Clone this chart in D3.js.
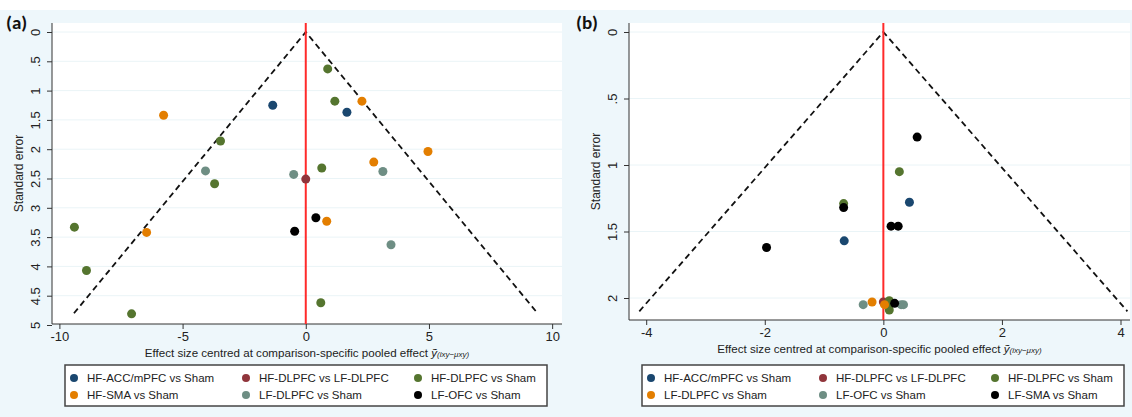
<!DOCTYPE html>
<html>
<head>
<meta charset="utf-8">
<script src="https://cdn.jsdelivr.net/npm/d3@7"></script>
<style>
  body { margin: 0; background: #fff; }
  svg { display: block; font-family: "Liberation Sans", Arial, sans-serif; }
  .tick text { fill: #222; }
</style>
</head>
<body>
<script>
// Comparison groups and colours (Stata s2color-like)
var groupColors = ['#1a476f', '#90353b', '#55752f', '#e37e00', '#6e8e84', '#000000'];
var aLabels = ['HF-ACC/mPFC vs Sham', 'HF-DLPFC vs LF-DLPFC', 'HF-DLPFC vs Sham',
               'HF-SMA vs Sham', 'LF-DLPFC vs Sham', 'LF-OFC vs Sham'];
var bLabels = ['HF-ACC/mPFC vs Sham', 'HF-DLPFC vs LF-DLPFC', 'HF-DLPFC vs Sham',
               'LF-DLPFC vs Sham', 'LF-OFC vs Sham', 'LF-SMA vs Sham'];

// Panel (a): effect centred, standard error, group index
var aEffect = [-1.34, 1.67, 0, 0.89, 1.18, -3.46, -3.70, 0.65, 0.61, -9.39, -8.90, -7.07,
               -5.77, 2.28, 4.96, 2.76, 0.85, -6.46, -4.07, -0.49, 3.13, 3.46, 0.41, -0.45];
var aSE     = [1.25, 1.37, 2.51, 0.63, 1.18, 1.86, 2.59, 2.32, 4.62, 3.33, 4.07, 4.81,
               1.42, 1.18, 2.04, 2.22, 3.23, 3.42, 2.37, 2.43, 2.38, 3.63, 3.17, 3.40];
var aGroup  = [0, 0, 1, 2, 2, 2, 2, 2, 2, 2, 2, 2,
               3, 3, 3, 3, 3, 3, 4, 4, 4, 4, 5, 5];

// Panel (b)
var bEffect = [0.44, -0.66, 0, -0.67, 0.27, 0.10, 0.10, 0.09, -0.19, 0.02,
               -0.34, 0.30, 0.34, -0.67, 0.57, 0.13, 0.25, -1.97, 0.19];
var bSE     = [1.28, 1.57, 2.03, 1.29, 1.05, 2.02, 2.09, 2.06, 2.03, 2.05,
               2.05, 2.05, 2.05, 1.32, 0.79, 1.46, 1.46, 1.62, 2.04];
var bGroup  = [0, 0, 1, 2, 2, 2, 2, 2, 3, 3,
               4, 4, 4, 5, 5, 5, 5, 5, 5];

var aXTicks = [-10, -5, 0, 5, 10],
    aYTicks = [0, 0.5, 1, 1.5, 2, 2.5, 3, 3.5, 4, 4.5, 5],
    bXTicks = [-4, -2, 0, 2, 4],
    bYTicks = [0, 0.5, 1, 1.5, 2];
var aSEMax = 4.8, bSEMax = 2.1;

var w = 1132, h = 417;
var svg = d3.select('body').append('svg')
    .attr('width', w)
    .attr('height', h);

// light blue graph region
svg.append('rect')
    .attr('x', 0).attr('y', 10)
    .attr('width', w).attr('height', h - 10)
    .attr('fill', '#eef7fb');

var fmt = function(d) { return d === 0 ? '0' : String(d).replace(/^0\./, '.'); };

var panel = function(opt) {
    var x = d3.scaleLinear().domain(opt.xDom).range([opt.left, opt.right]);
    var y = d3.scaleLinear().domain([0, opt.yTicks[opt.yTicks.length - 1]]).range([32, opt.yEnd]);
    var top = 23;

    svg.append('rect')
        .attr('x', opt.left).attr('y', top)
        .attr('width', opt.right - opt.left).attr('height', opt.bottom - top)
        .attr('fill', '#ffffff');

    // faint gridlines
    svg.append('g').selectAll('line')
        .data(opt.yTicks).enter()
        .append('line')
        .attr('x1', opt.left).attr('x2', opt.right)
        .attr('y1', function(d) { return y(d); })
        .attr('y2', function(d) { return y(d); })
        .attr('stroke', '#eaf4f7')
        .attr('stroke-width', 1);

    // axes
    var xAxis = svg.append('g')
        .attr('transform', 'translate(0,' + opt.bottom + ')')
        .call(d3.axisBottom(x).tickValues(opt.xTicks).tickSize(5).tickPadding(3).tickFormat(fmt));
    xAxis.select('.domain').attr('d', 'M' + opt.left + ',0H' + opt.right).attr('stroke', '#333');
    xAxis.selectAll('.tick line').attr('stroke', '#333');
    xAxis.selectAll('.tick text').attr('font-size', 13);

    var yAxis = svg.append('g')
        .attr('transform', 'translate(' + opt.left + ',0)')
        .call(d3.axisLeft(y).tickValues(opt.yTicks).tickSize(5).tickFormat(fmt));
    yAxis.select('.domain').attr('d', 'M0,' + top + 'V' + opt.bottom).attr('stroke', '#333');
    yAxis.selectAll('.tick line').attr('stroke', '#333');
    yAxis.selectAll('.tick text')
        .attr('font-size', 13)
        .attr('x', null).attr('dy', null)
        .attr('text-anchor', 'middle')
        .attr('transform', 'translate(-12,0) rotate(-90)');

    // pseudo confidence funnel
    var funnel = [[-1.96 * opt.seMax, opt.seMax], [0, 0], [1.96 * opt.seMax, opt.seMax]];
    svg.append('path')
        .attr('d', d3.line().x(function(d) { return x(d[0]); }).y(function(d) { return y(d[1]); })(funnel))
        .attr('fill', 'none')
        .attr('stroke', '#111')
        .attr('stroke-width', 1.8)
        .attr('stroke-dasharray', '6,4');

    // zero line
    svg.append('line')
        .attr('x1', x(0)).attr('x2', x(0))
        .attr('y1', top).attr('y2', opt.bottom)
        .attr('stroke', '#ff2a2a')
        .attr('stroke-width', 2);

    // points
    svg.append('g').selectAll('circle')
        .data(opt.effect).enter()
        .append('circle')
        .attr('cx', function(d) { return x(d); })
        .attr('cy', function(d, i) { return y(opt.se[i]); })
        .attr('r', 4.5)
        .attr('fill', function(d, i) { return groupColors[opt.group[i]]; });

    // titles
    svg.append('text')
        .attr('transform', 'translate(' + opt.yTitleX + ',' + ((top + opt.bottom) / 2) + ') rotate(-90)')
        .attr('text-anchor', 'middle')
        .attr('font-size', 12)
        .attr('fill', '#222')
        .text('Standard error');

    var xt = svg.append('text')
        .attr('x', (opt.left + opt.right) / 2)
        .attr('y', opt.bottom + 33)
        .attr('text-anchor', 'middle')
        .attr('font-size', 11.6)
        .attr('fill', '#222');
    xt.append('tspan').text('Effect size centred at comparison-specific pooled effect ');
    xt.append('tspan').attr('font-style', 'italic').text('ỹ');
    xt.append('tspan').attr('font-size', 8).attr('font-style', 'italic').text('(ixy−μxy)');

    svg.append('text')
        .attr('x', opt.tagX).attr('y', 29)
        .attr('font-size', 19)
        .attr('font-weight', 'bold')
        .attr('font-family', 'Calibri, Carlito, "Liberation Sans", sans-serif')
        .attr('fill', '#111')
        .text(opt.tag);

    // legend
    var lg = svg.append('g').attr('transform', 'translate(' + opt.legX + ',365)');
    lg.append('rect')
        .attr('width', 482).attr('height', 41)
        .attr('fill', '#fff')
        .attr('stroke', '#444')
        .attr('stroke-width', 1.5);
    var item = lg.selectAll('g.item')
        .data(opt.labels).enter()
        .append('g')
        .attr('class', 'item')
        .attr('transform', function(d, i) {
            return 'translate(' + (9 + (i % 3) * 172) + ',' + (13 + Math.floor(i / 3) * 17) + ')';
        });
    item.append('circle')
        .attr('r', 4)
        .attr('fill', function(d, i) { return groupColors[i]; });
    item.append('text')
        .attr('x', 13).attr('dy', '0.35em')
        .attr('font-size', 11.5)
        .attr('fill', '#222')
        .text(function(d) { return d; });
};

panel({
    tag: '(a)', tagX: 6,
    left: 52, right: 562, bottom: 324, yEnd: 325,
    xDom: [-10.3, 10.4], xTicks: aXTicks, yTicks: aYTicks, seMax: aSEMax,
    effect: aEffect, se: aSE, group: aGroup,
    labels: aLabels, legX: 65, yTitleX: 23
});
panel({
    tag: '(b)', tagX: 576,
    left: 629, right: 1130, bottom: 320, yEnd: 298,
    xDom: [-4.29, 4.16], xTicks: bXTicks, yTicks: bYTicks, seMax: bSEMax,
    effect: bEffect, se: bSE, group: bGroup,
    labels: bLabels, legX: 642, yTitleX: 600
});
</script>
</body>
</html>
